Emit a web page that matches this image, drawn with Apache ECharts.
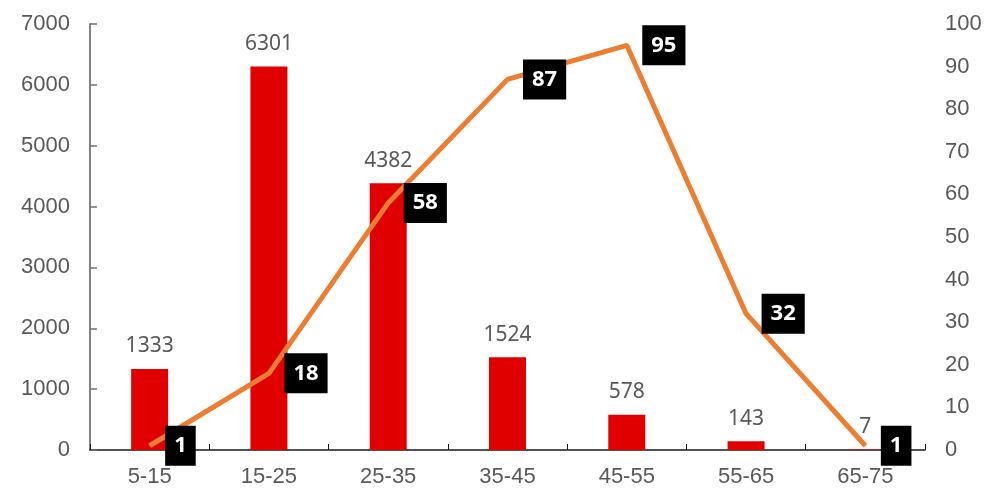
<!DOCTYPE html>
<html>
<head>
<meta charset="utf-8">
<script src="https://cdn.jsdelivr.net/npm/echarts@6/dist/echarts.min.js"></script>
<style>
html,body{margin:0;padding:0;background:#fff;}
#chart{width:1002px;height:501px;}
</style>
</head>
<body>
<div id="chart"></div>
<script>
var categories = ['5-15','15-25','25-35','35-45','45-55','55-65','65-75'];
var barValues = [1333, 6301, 4382, 1524, 578, 143, 7];
var lineValues = [1, 18, 58, 87, 95, 32, 1];

var chart = echarts.init(document.getElementById('chart'));
var axisFont = {color:'#595959', fontSize:22, fontFamily:'Liberation Sans, Arial, sans-serif'};
chart.setOption({
  animation:false,
  grid:{left:90, right:77, top:24, bottom:51, containLabel:false},
  xAxis:{
    type:'category', data:categories, boundaryGap:true,
    axisLine:{lineStyle:{color:'#1a1a1a', width:1.5}},
    axisTick:{show:true, inside:true, length:6, alignWithLabel:false, lineStyle:{color:'#1a1a1a'}},
    axisLabel:Object.assign({margin:16}, axisFont)
  },
  yAxis:[{
    type:'value', min:0, max:7000, interval:1000,
    axisLine:{show:true, lineStyle:{color:'#808080', width:2}},
    axisTick:{show:true, inside:true, length:7, lineStyle:{color:'#707070', width:1.5}},
    splitLine:{show:false},
    axisLabel:Object.assign({margin:20, formatter:function(v){return String(v);}}, axisFont)
  },{
    type:'value', min:0, max:100, interval:10, position:'right',
    axisLine:{show:false}, axisTick:{show:false}, splitLine:{show:false},
    axisLabel:Object.assign({margin:20, formatter:function(v){return String(v);}}, axisFont)
  }],
  series:[{
    type:'bar', data:barValues, yAxisIndex:0, barWidth:37,
    itemStyle:{color:'#e00000'},
    label:{show:true, position:'top', distance:12, color:'#595959', fontSize:21, fontFamily:'Noto Sans, sans-serif'}
  },{
    type:'line', data:lineValues, yAxisIndex:1, symbol:'circle', symbolSize:1, showSymbol:true,
    itemStyle:{color:'#ed7d31'},
    lineStyle:{color:'#ed7d31', width:5},
    label:{show:true, position:'right', distance:15, color:'#fff', fontWeight:'bold', fontSize:22,
      fontFamily:'Noto Sans, sans-serif', backgroundColor:'#000', padding:[9,9], lineHeight:22},
    labelLayout:{hideOverlap:false},
    z:5
  }]
});
</script>
</body>
</html>
